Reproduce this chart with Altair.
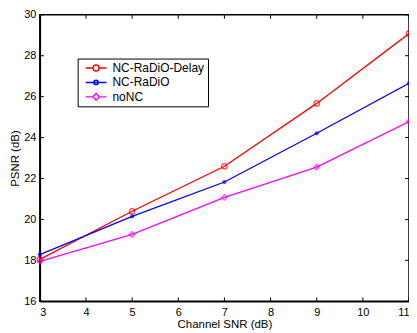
import altair as alt
import pandas as pd

snr = [3, 5, 7, 9, 11]
delay = [18.05, 20.4, 22.6, 25.67, 29.08]
radio = [18.28, 20.15, 21.83, 24.21, 26.65]
nonc = [17.95, 19.27, 21.08, 22.56, 24.78]
names = ["NC-RaDiO-Delay", "NC-RaDiO", "noNC"]
colors = ["#FF0000", "#0000FF", "#FF00FF"]
x_ticks = [3, 4, 5, 6, 7, 8, 9, 10, 11]
y_ticks = [16, 18, 20, 22, 24, 26, 28, 30]

# legend glyphs: a short line with the marker in its middle
LINE = "M-1.9,0L-0.55,0M0.55,0L1.9,0"
CIRC = "M-0.55,0A0.55,0.55 0 1,0 0.55,0A0.55,0.55 0 1,0 -0.55,0"
DOT = "M-1.9,0L1.9,0M-0.4,0A0.4,0.4 0 1,0 0.4,0A0.4,0.4 0 1,0 -0.4,0"
DIAM = "M-0.6,0L0,-0.6L0.6,0L0,0.6Z"
glyphs = [LINE + CIRC, DOT, LINE + DIAM]

rows = []
for n, vals in zip(names, [delay, radio, nonc]):
    for s, v in zip(snr, vals):
        rows.append({"snr": s, "psnr": v, "series": n})
df = pd.DataFrame(rows)

W, H = 371, 288
FONT = "Liberation Sans"

xs = alt.Scale(domain=[3, 11], nice=False, zero=False)
ys = alt.Scale(domain=[16, 30], nice=False, zero=False)
cs = alt.Scale(domain=names, range=colors)
ss = alt.Scale(domain=names, range=glyphs)

xax = alt.Axis(values=x_ticks, tickSize=0, labelPadding=5, labelFontSize=11,
               titleFontSize=11.5, titleFontWeight="normal", titlePadding=1,
               domainColor="black", labelColor="black", titleColor="black",
               grid=False, labelFont=FONT, titleFont=FONT)
yax = alt.Axis(values=y_ticks, tickSize=0, labelPadding=4, labelFontSize=11,
               titleFontSize=11.5, titleFontWeight="normal", titlePadding=3,
               domainColor="black", labelColor="black", titleColor="black",
               grid=False, labelFont=FONT, titleFont=FONT)

legend = alt.Legend(
    title=None, orient="none", legendX=38, legendY=44,
    fillColor="white", strokeColor="black", padding=3,
    labelFont=FONT, labelFontSize=12, labelColor="black", labelOffset=10,
    symbolStrokeWidth=1.4, symbolSize=121, symbolFillColor="white",
    symbolOffset=9, rowPadding=1.5, symbolOpacity=1)

base = alt.Chart(df)
lines = base.mark_line(strokeWidth=1.3).encode(
    x=alt.X("snr:Q", scale=xs, axis=xax, title="Channel SNR (dB)"),
    y=alt.Y("psnr:Q", scale=ys, axis=yax, title="PSNR (dB)"),
    color=alt.Color("series:N", scale=cs, sort=names, legend=legend),
    detail="series:N",
)

def pts(name, filled, size, shape):
    return alt.Chart(df[df.series == name]).mark_point(
        filled=filled, size=size, shape=shape, strokeWidth=1.3,
        color=colors[names.index(name)]
    ).encode(x=alt.X("snr:Q", scale=xs), y=alt.Y("psnr:Q", scale=ys))

p1 = pts("NC-RaDiO-Delay", False, 30, "circle")
p2 = pts("NC-RaDiO", True, 18, "circle")
p3 = pts("noNC", False, 30, "diamond")

leg = base.mark_point(opacity=0).encode(
    x=alt.X("snr:Q", scale=xs), y=alt.Y("psnr:Q", scale=ys),
    color=alt.Color("series:N", scale=cs, sort=names, legend=legend),
    shape=alt.Shape("series:N", scale=ss, sort=names, legend=legend),
)

xt = pd.DataFrame({"v": x_ticks})
yt = pd.DataFrame({"v": y_ticks})
tb = alt.Chart(xt).mark_rule(color="black", strokeWidth=1).encode(
    x=alt.X("v:Q", scale=xs), y=alt.value(H), y2=alt.value(H - 4))
tt = alt.Chart(xt).mark_rule(color="black", strokeWidth=1).encode(
    x=alt.X("v:Q", scale=xs), y=alt.value(0), y2=alt.value(4))
tl = alt.Chart(yt).mark_rule(color="black", strokeWidth=1).encode(
    y=alt.Y("v:Q", scale=ys), x=alt.value(0), x2=alt.value(4))
tr = alt.Chart(yt).mark_rule(color="black", strokeWidth=1).encode(
    y=alt.Y("v:Q", scale=ys), x=alt.value(W - 4), x2=alt.value(W))

chart = alt.layer(tb, tt, tl, tr, lines, p1, p2, p3, leg).properties(
    width=W, height=H,
    autosize=alt.AutoSizeParams(type="none"),
    padding={"left": 32, "top": 6, "right": 0, "bottom": 30},
).configure_view(stroke="black", strokeWidth=1.5).configure_axis(domainWidth=1.5
).configure_legend(strokeWidth=1)

chart.save("out.html", embed_options={"renderer": "svg", "actions": False})
